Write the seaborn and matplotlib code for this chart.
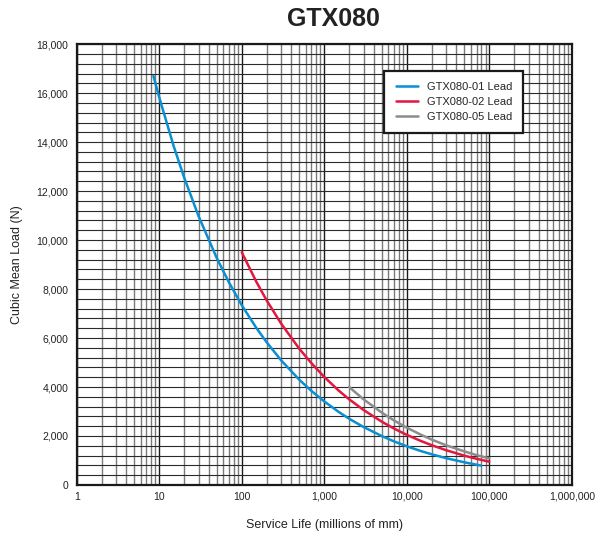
import numpy as np
import pandas as pd
import matplotlib
matplotlib.use("Agg")
import matplotlib.pyplot as plt
import seaborn as sns
from matplotlib.ticker import FixedLocator, LogLocator, FuncFormatter, NullFormatter

# values
life_01 = [8.5, 10, 15, 20, 30, 50, 70, 100, 150, 200, 300, 500, 700, 1000,
           1500, 2000, 3000, 5000, 7000, 10000, 15000, 20000, 30000, 50000, 80000]
load_01 = [16700, 15820, 13820, 12560, 10970, 9250, 8270, 7340, 6415, 5830, 5090,
           4290, 3840, 3410, 2980, 2705, 2365, 1995, 1780, 1580, 1380, 1255, 1095,
           925, 790]

life_02 = [100, 150, 200, 300, 500, 700, 1000, 1500, 2000, 3000, 5000, 7000,
           10000, 15000, 20000, 30000, 50000, 70000, 100000]
load_02 = [9500, 8300, 7540, 6590, 5555, 4970, 4410, 3850, 3500, 3060, 2580, 2305,
           2045, 1790, 1625, 1420, 1195, 1070, 950]

life_05 = [2000, 3000, 5000, 7000, 10000, 15000, 20000, 30000, 50000, 70000, 100000]
load_05 = [4000, 3495, 2950, 2635, 2340, 2045, 1855, 1620, 1370, 1220, 1085]

series = ["GTX080-01 Lead", "GTX080-02 Lead", "GTX080-05 Lead"]
colors = ["#0a8fd2", "#e3173f", "#8c8c8c"]
y_ticks = list(range(0, 18001, 2000))
x_ticks = [1, 10, 100, 1000, 10000, 100000, 1000000]

sns.set_style("white")
plt.rcParams["font.family"] = ["Liberation Sans", "DejaVu Sans"]

fig = plt.figure(figsize=(5.95, 5.35), dpi=100)
ax = fig.add_axes([0.129, 0.0935, 0.832, 0.824])

ax.set_xscale("log")
ax.set_xlim(1, 1000000)
ax.set_ylim(0, 18000)

# grid: minor log lines grey, decades black, horizontal every 400
ax.xaxis.set_major_locator(FixedLocator(x_ticks))
ax.xaxis.set_minor_locator(LogLocator(base=10, subs=np.arange(2, 10)))
ax.xaxis.set_minor_formatter(NullFormatter())
ax.yaxis.set_major_locator(FixedLocator(y_ticks))
ax.yaxis.set_minor_locator(FixedLocator(list(range(0, 18001, 400))))
ax.grid(True, which="minor", axis="x", color="#7a7a7a", lw=1.0)
ax.grid(True, which="major", axis="x", color="#1a1a1a", lw=1.0)
ax.grid(True, which="both", axis="y", color="#2a2a2a", lw=0.8)
ax.set_axisbelow(True)

for lf, ld, name, c in zip([life_01, life_02, life_05], [load_01, load_02, load_05],
                           series, colors):
    df = pd.DataFrame({"life": lf, "load": ld})
    sns.lineplot(data=df, x="life", y="load", color=c, lw=1.8, label=name, ax=ax)

ax.xaxis.set_major_formatter(FuncFormatter(lambda v, p: f"{int(v):,}"))
ax.yaxis.set_major_formatter(FuncFormatter(lambda v, p: f"{int(v):,}"))
ax.tick_params(axis="both", which="both", length=0, labelsize=7.5, colors="#222222")
ax.tick_params(axis="x", pad=5)
ax.tick_params(axis="y", pad=6)

for s in ax.spines.values():
    s.set_color("#1a1a1a")
    s.set_linewidth(1.6)

ax.set_xlabel("Service Life (millions of mm)", fontsize=9, labelpad=12, color="#222222")
ax.set_ylabel("Cubic Mean Load (N)", fontsize=9, labelpad=10, color="#222222")
fig.text(0.56, 0.965, "GTX080", ha="center", va="center", fontsize=18,
         fontweight="bold", color="#222222")

leg = ax.legend(loc="upper right", bbox_to_anchor=(0.913, 0.952), fontsize=8,
                frameon=True, fancybox=False, framealpha=1, edgecolor="#1a1a1a",
                handlelength=2.0, borderpad=1.0, labelspacing=0.45)
leg.get_frame().set_linewidth(1.6)

fig.savefig("out.png", dpi=100)
